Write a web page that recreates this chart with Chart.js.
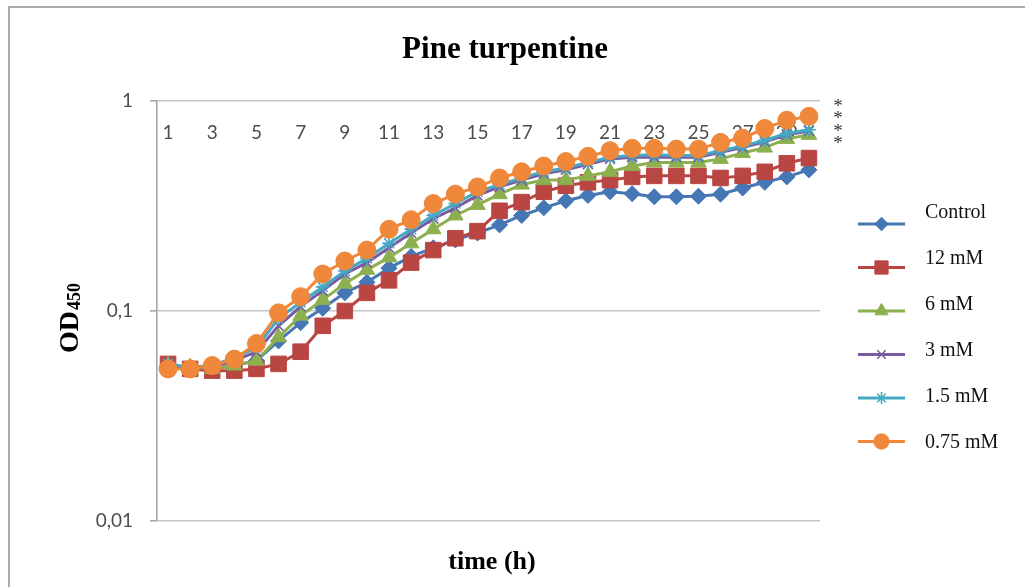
<!DOCTYPE html>
<html><head><meta charset="utf-8">
<script src="https://cdn.jsdelivr.net/npm/chart.js@4/dist/chart.umd.min.js"></script>
<style>html,body{margin:0;padding:0;background:#fff}#wrap{width:1025px;height:587px;position:relative}</style>
</head><body><div id="wrap"><canvas id="c"></canvas></div>
<script>
// ---- data ----
const timeLabels = ['1','2','3','4','5','6','7','8','9','10','11','12','13','14','15','16','17','18','19','20','21','22','23','24','25','26','27','28','29','30'];
const seriesNames = ['Control','12 mM','6 mM','3 mM','1.5 mM','0.75 mM'];
const control   = [0.055,0.053,0.053,0.055,0.058,0.072,0.088,0.103,0.122,0.137,0.16,0.182,0.2,0.218,0.235,0.257,0.285,0.31,0.335,0.355,0.37,0.362,0.35,0.35,0.352,0.36,0.385,0.41,0.435,0.47];
const mM12      = [0.056,0.053,0.052,0.052,0.053,0.056,0.064,0.085,0.1,0.122,0.14,0.17,0.195,0.222,0.24,0.3,0.33,0.37,0.395,0.41,0.42,0.435,0.44,0.44,0.44,0.43,0.44,0.46,0.505,0.535];
const mM6       = [0.055,0.054,0.053,0.055,0.058,0.075,0.095,0.113,0.135,0.157,0.18,0.21,0.245,0.285,0.32,0.36,0.4,0.42,0.42,0.44,0.46,0.49,0.51,0.51,0.51,0.53,0.565,0.6,0.66,0.69];
const mM3       = [0.055,0.053,0.054,0.058,0.064,0.085,0.105,0.125,0.15,0.17,0.2,0.235,0.275,0.31,0.355,0.39,0.42,0.45,0.47,0.5,0.53,0.54,0.54,0.54,0.54,0.57,0.6,0.64,0.69,0.72];
const mM1_5     = [0.056,0.054,0.055,0.06,0.067,0.092,0.11,0.13,0.155,0.178,0.21,0.245,0.285,0.325,0.37,0.4,0.43,0.46,0.48,0.51,0.54,0.55,0.555,0.55,0.55,0.58,0.61,0.65,0.7,0.73];
const mM0_75    = [0.053,0.053,0.055,0.059,0.07,0.098,0.117,0.15,0.173,0.195,0.245,0.272,0.325,0.36,0.39,0.43,0.46,0.49,0.515,0.545,0.58,0.595,0.595,0.59,0.59,0.635,0.665,0.74,0.81,0.845];
const yTickValues = [0.01, 0.1, 1];
const yTickLabels = ['0,01', '0,1', '1'];
const significanceMarks = ['*', '*', '*', '*'];
const chartTitle = 'Pine turpentine';
const xTitle = 'time (h)';
const yTitleMain = 'OD';
const yTitleSub = '450';

// ---- styles ----
const seriesValues = [control, mM12, mM6, mM3, mM1_5, mM0_75];
const styles = [
  {color:'#4677B5', pointStyle:'rectRot', radius:8, bw:1},
  {color:'#B94643', pointStyle:'rect', radius:11, bw:1},
  {color:'#8DB04F', pointStyle:'triangle', radius:9, bw:1},
  {color:'#7A5AA0', pointStyle:'crossRot', radius:7, bw:1.6},
  {color:'#45A9C4', pointStyle:'star', radius:7, bw:1.6},
  {color:'#EF883A', pointStyle:'circle', radius:9, bw:1}
];

const datasets = seriesNames.map((name, i) => ({
  label: name,
  data: seriesValues[i],
  borderColor: styles[i].color,
  backgroundColor: styles[i].color,
  pointBackgroundColor: styles[i].color,
  pointBorderColor: styles[i].color,
  pointStyle: styles[i].pointStyle,
  pointRadius: styles[i].radius,
  pointHoverRadius: styles[i].radius,
  pointBorderWidth: styles[i].bw,
  borderWidth: 3,
  tension: 0,
  order: seriesNames.length - i
}));

const decorPlugin = {
  id: 'decor',
  beforeDraw(chart) {
    const ctx = chart.ctx;
    ctx.save();
    ctx.fillStyle = '#fff';
    ctx.fillRect(0, 0, chart.width, chart.height);
    ctx.strokeStyle = '#ABABAB';
    ctx.lineWidth = 2;
    ctx.beginPath();
    ctx.moveTo(9, chart.height);
    ctx.lineTo(9, 7);
    ctx.lineTo(chart.width, 7);
    ctx.stroke();
    ctx.restore();
  },
  afterDraw(chart) {
    const ctx = chart.ctx;
    const area = chart.chartArea;
    ctx.save();
    ctx.fillStyle = '#000';
    // title
    ctx.textAlign = 'center';
    ctx.textBaseline = 'alphabetic';
    ctx.font = 'bold 31px "Liberation Serif"';
    ctx.fillText(chartTitle, 505, 58);
    // x title
    ctx.font = 'bold 26px "Liberation Serif"';
    ctx.fillText(xTitle, 492, 569);
    // y title rotated
    ctx.save();
    ctx.translate(78, 353);
    ctx.rotate(-Math.PI / 2);
    ctx.textAlign = 'left';
    ctx.font = 'bold 28px "Liberation Serif"';
    ctx.fillText(yTitleMain, 0, 0);
    const w = ctx.measureText(yTitleMain).width;
    ctx.font = 'bold 18px "Liberation Serif"';
    ctx.fillText(yTitleSub, w + 1, 2);
    ctx.restore();
    // significance asterisks
    ctx.font = '19px "Liberation Serif"';
    ctx.textAlign = 'center';
    significanceMarks.forEach((m, i) => {
      ctx.fillStyle = '#333';
      ctx.fillText(m, area.right + 18, 112 + i * 12.4);
    });
    // legend
    const meta = chart.data.datasets;
    meta.forEach((ds, i) => {
      const ly = 224 + i * 43.5;
      const ty = 213 + i * 46;
      ctx.strokeStyle = ds.borderColor;
      ctx.lineWidth = 3;
      ctx.beginPath();
      ctx.moveTo(858, ly);
      ctx.lineTo(905, ly);
      ctx.stroke();
      ctx.fillStyle = ds.pointBackgroundColor;
      ctx.strokeStyle = ds.pointBorderColor;
      ctx.lineWidth = ds.pointBorderWidth;
      Chart.helpers.drawPoint(ctx, {pointStyle: ds.pointStyle, radius: ds.pointRadius * 0.85, rotation: 0, borderWidth: ds.pointBorderWidth}, 881.5, ly);
      ctx.fillStyle = '#111';
      ctx.font = '20px "Liberation Serif"';
      ctx.textAlign = 'left';
      ctx.textBaseline = 'middle';
      ctx.fillText(ds.label, 925, ty);
    });
    ctx.restore();
  }
};

new Chart(document.getElementById('c'), {
  type: 'line',
  data: { labels: timeLabels, datasets },
  plugins: [decorPlugin],
  options: {
    responsive: true,
    maintainAspectRatio: false,
    animation: false,
    devicePixelRatio: 1,
    layout: { padding: { left: 0, right: 205, top: 91, bottom: 66 } },
    plugins: { legend: { display: false }, title: { display: false }, tooltip: { enabled: false } },
    scales: {
      x: {
        type: 'category',
        position: 'top',
        offset: true,
        afterFit: s => { s.height = 10; },
        grid: { display: false },
        border: { display: false },
        ticks: {
          mirror: true, padding: 20, autoSkip: false, maxRotation: 0, minRotation: 0,
          font: { family: 'Lato', size: 19 }, color: '#4d4d4d',
          callback: (v, i) => (i % 2 === 0 ? timeLabels[i] : '')
        }
      },
      y: {
        type: 'logarithmic',
        min: 0.01, max: 1,
        afterBuildTicks: s => { s.ticks = yTickValues.map(v => ({ value: v })); },
        afterFit: s => { s.width = 157; },
        ticks: {
          autoSkip: false, padding: 17,
          font: { family: 'Lato', size: 19 }, color: '#4d4d4d',
          callback: v => { const k = yTickValues.indexOf(v); return k >= 0 ? yTickLabels[k] : ''; }
        },
        grid: { color: '#C6C6C6', lineWidth: 1.6, tickLength: 7, tickColor: '#A6A6A6', drawTicks: true },
        border: { display: true, color: '#A6A6A6', width: 1.6 }
      }
    }
  }
});
</script>
</body></html>
